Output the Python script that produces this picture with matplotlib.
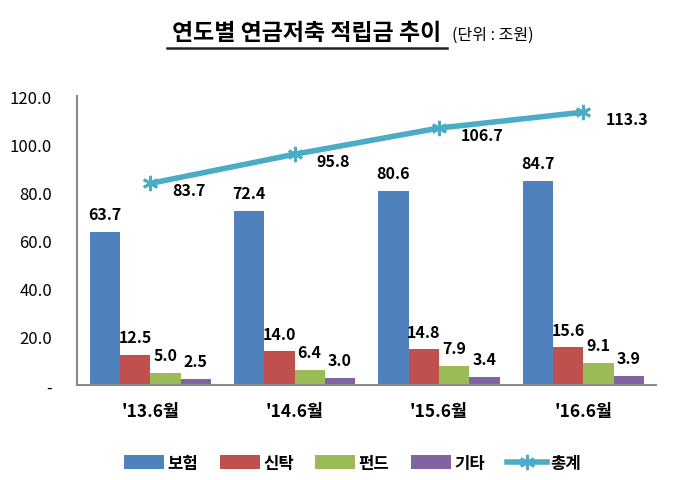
import numpy as np
import matplotlib.pyplot as plt

plt.rcParams['font.family'] = ['Noto Sans CJK KR', 'DejaVu Sans']

# data
periods = ["'13.6월", "'14.6월", "'15.6월", "'16.6월"]
insurance = [63.7, 72.4, 80.6, 84.7]
trust = [12.5, 14.0, 14.8, 15.6]
fund = [5.0, 6.4, 7.9, 9.1]
other = [2.5, 3.0, 3.4, 3.9]
total = [83.7, 95.8, 106.7, 113.3]
series_names = ['보험', '신탁', '펀드', '기타']
yticks = [0, 20, 40, 60, 80, 100, 120]
ytick_labels = ['-', '20.0', '40.0', '60.0', '80.0', '100.0', '120.0']

colors = ['#4F81BD', '#C0504D', '#9BBB59', '#8064A2']
line_color = '#4BACC6'

fig = plt.figure(figsize=(6.79, 4.81), dpi=100)
ax = fig.add_axes([0.1134, 0.1975, 0.852, 0.6008])

x = np.arange(len(periods))
w = 0.21
offsets = [-1.5 * w, -0.5 * w, 0.5 * w, 1.5 * w]
handles = []
for vals, name, c, off in zip([insurance, trust, fund, other], series_names, colors, offsets):
    bars = ax.bar(x + off, vals, w, color=c, label=name, edgecolor='none')
    handles.append(bars)
    for b, v in zip(bars, vals):
        ax.annotate(f'{v:.1f}', (b.get_x() + b.get_width() / 2, v),
                    xytext=(0, 7), textcoords='offset points',
                    ha='center', va='bottom', fontsize=11.5, fontweight='bold')

ln, = ax.plot(x, total, color=line_color, lw=4, marker=(6, 2, 0), markersize=11,
              markeredgewidth=2, markeredgecolor=line_color, label='총계')
handles.append(ln)
for xi, v in zip(x, total):
    ax.annotate(f'{v:.1f}', (xi, v), xytext=(16, -5), textcoords='offset points',
                ha='left', va='center', fontsize=11.5, fontweight='bold')

ax.set_xlim(-0.507, 3.5)
ax.set_ylim(0, 120)
ax.set_yticks(yticks)
ax.set_yticklabels(ytick_labels, fontsize=12)
ax.set_xticks(x)
ax.set_xticklabels(periods, fontsize=12.5, fontweight='bold')
ax.tick_params(axis='x', length=0, pad=12)
ax.tick_params(axis='y', length=0, pad=18)
for s in ['top', 'right']:
    ax.spines[s].set_visible(False)
for s in ['left', 'bottom']:
    ax.spines[s].set_color('#888888')
    ax.spines[s].set_linewidth(1.5)

# title with underline on main part
fig.text(0.452, 0.931, '연도별 연금저축 적립금 추이', ha='center', va='center',
         fontsize=16.5, fontweight='bold')
fig.text(0.666, 0.927, '(단위 : 조원)', ha='left', va='center', fontsize=11.5)
fig.add_artist(plt.Line2D([0.246, 0.659], [0.899, 0.899], color='#222222', lw=1.8))

ax.legend(handles=handles, loc='center', bbox_to_anchor=(0.476, -0.27), ncol=5, frameon=False,
          handlelength=2.4, handleheight=0.9, handletextpad=0.2, columnspacing=1.3,
          prop={'size': 12, 'weight': 'bold'})

fig.savefig('out.png', dpi=100)
